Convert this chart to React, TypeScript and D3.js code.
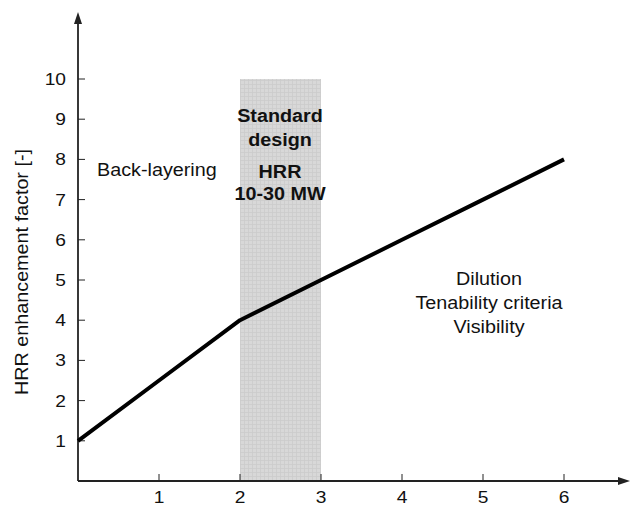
import * as d3 from "d3";
import { useEffect, useRef } from "react";

// curve points (x, enhancement factor)
const curveX = [0, 1, 2, 3, 4, 5, 6];
const curveY = [1, 2.5, 4, 5, 6, 7, 8];
const xTicks = [1, 2, 3, 4, 5, 6];
const yTicks = [1, 2, 3, 4, 5, 6, 7, 8, 9, 10];
const bandRange = [2, 3];
const bandTop = 10;

export default function App() {
  const svgRef = useRef<SVGSVGElement | null>(null);

  useEffect(() => {
    if (!svgRef.current) return;
    const width = 630;
    const height = 506;
    const svg = d3.select(svgRef.current);
    svg.selectAll("*").remove();
    svg.attr("width", width).attr("height", height);

    const font = "'Liberation Sans', Arial, sans-serif";
    const stretch = 1.13; // the original text is drawn wide
    const x = d3.scaleLinear().domain([0, 1]).range([78, 159]);
    const y = d3.scaleLinear().domain([0, 10]).range([481, 79]);

    const defs = svg.append("defs");
    const pat = defs
      .append("pattern")
      .attr("id", "grid")
      .attr("width", 4)
      .attr("height", 4)
      .attr("patternUnits", "userSpaceOnUse");
    pat.append("rect").attr("width", 4).attr("height", 4).attr("fill", "#d8d8d8");
    pat
      .append("path")
      .attr("d", "M0,0.5H4M0.5,0V4")
      .attr("stroke", "#cbcbcb")
      .attr("stroke-width", 0.8);

    // shaded band
    svg
      .append("rect")
      .attr("x", x(bandRange[0]))
      .attr("y", y(bandTop))
      .attr("width", x(bandRange[1]) - x(bandRange[0]))
      .attr("height", y(0) - y(bandTop))
      .attr("fill", "url(#grid)");

    // axes
    const axisColor = "#222";
    svg
      .append("line")
      .attr("x1", x(0))
      .attr("x2", x(0))
      .attr("y1", y(0))
      .attr("y2", 20)
      .attr("stroke", axisColor)
      .attr("stroke-width", 1.8);
    svg
      .append("path")
      .attr("d", `M${x(0)},12L${x(0) - 4},24L${x(0) + 4},24Z`)
      .attr("fill", axisColor);
    svg
      .append("line")
      .attr("x1", x(0))
      .attr("x2", 622)
      .attr("y1", y(0))
      .attr("y2", y(0))
      .attr("stroke", axisColor)
      .attr("stroke-width", 1.8);
    svg
      .append("path")
      .attr("d", `M630,${y(0)}L618,${y(0) - 4}L618,${y(0) + 4}Z`)
      .attr("fill", axisColor);

    const text = (
      s: string | number,
      px: number,
      py: number,
      size: number,
      anchor: string,
      bold = false,
      rotate = 0,
    ) =>
      svg
        .append("text")
        .attr("transform", `translate(${px},${py}) rotate(${rotate}) scale(${stretch},1)`)
        .attr("text-anchor", anchor)
        .attr("font-family", font)
        .attr("font-size", size)
        .attr("font-weight", bold ? "bold" : "normal")
        .attr("fill", "#111")
        .text(s);

    // ticks
    svg
      .selectAll(".ytick")
      .data(yTicks)
      .enter()
      .append("line")
      .attr("x1", x(0))
      .attr("x2", x(0) + 7)
      .attr("y1", (d) => y(d))
      .attr("y2", (d) => y(d))
      .attr("stroke", axisColor)
      .attr("stroke-width", 1);
    yTicks.forEach((d) => text(d, 66, y(d) + 6, 17, "end"));
    svg
      .selectAll(".xtick")
      .data(xTicks)
      .enter()
      .append("line")
      .attr("x1", (d) => x(d))
      .attr("x2", (d) => x(d))
      .attr("y1", y(0))
      .attr("y2", y(0) - 7)
      .attr("stroke", axisColor)
      .attr("stroke-width", 1);
    xTicks.forEach((d) => text(d, x(d), 503, 17, "middle"));

    // curve
    const line = d3
      .line<number>()
      .x((_, i) => x(curveX[i]))
      .y((d) => y(d));
    svg
      .append("path")
      .attr("d", line(curveY))
      .attr("fill", "none")
      .attr("stroke", "#000")
      .attr("stroke-width", 4)
      .attr("stroke-linejoin", "round");

    // y label
    text("HRR enhancement factor [-]", 28, 272, 17.5, "middle", false, -90);

    const label = (lines: string[], cx: number, y0: number, dy: number, bold: boolean, anchor = "middle") => {
      lines.forEach((s, i) => text(s, cx, y0 + i * dy, 17.5, anchor, bold));
    };
    label(["Back-layering"], 97, 176, 0, false, "start");
    label(["Standard", "design"], 280, 122, 24, true);
    label(["HRR", "10-30 MW"], 280, 178, 22, true);
    label(["Dilution", "Tenability criteria", "Visibility"], 489, 285, 24, false);
  }, []);

  return (
    <div style={{ position: "absolute", left: 0, top: 0, width: 630, height: 506, background: "#fff" }}>
      <svg ref={svgRef} style={{ display: "block" }} />
    </div>
  );
}
